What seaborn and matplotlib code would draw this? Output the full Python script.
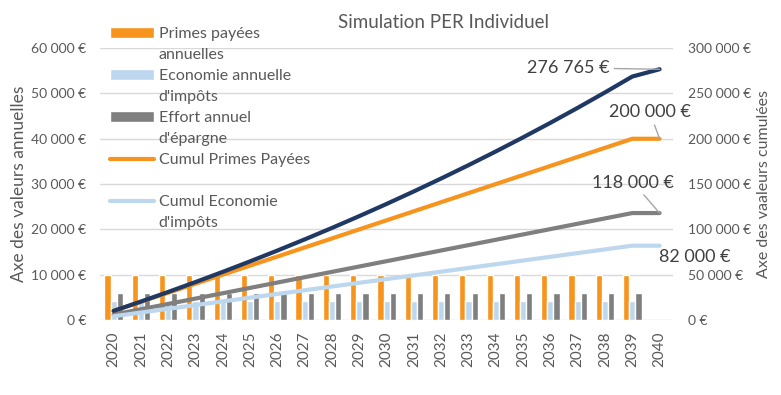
import matplotlib
matplotlib.use("Agg")
import matplotlib.pyplot as plt
from matplotlib.ticker import FuncFormatter, MultipleLocator
from matplotlib.patches import Patch
import seaborn as sns
import pandas as pd
import numpy as np

annees = ["2020", "2021", "2022", "2023", "2024", "2025", "2026", "2027", "2028", "2029", "2030",
          "2031", "2032", "2033", "2034", "2035", "2036", "2037", "2038", "2039", "2040"]

# valeurs annuelles (pas de versement en 2040)
primes = [10000] * 20 + [np.nan]
economie = [4100] * 20 + [np.nan]
effort = [5900] * 20 + [np.nan]

# valeurs cumulees
cumul_primes = [10000, 20000, 30000, 40000, 50000, 60000, 70000, 80000, 90000, 100000, 110000,
                120000, 130000, 140000, 150000, 160000, 170000, 180000, 190000, 200000, 200000]
cumul_economie = [4100, 8200, 12300, 16400, 20500, 24600, 28700, 32800, 36900, 41000, 45100,
                  49200, 53300, 57400, 61500, 65600, 69700, 73800, 77900, 82000, 82000]
cumul_effort = [5900, 11800, 17700, 23600, 29500, 35400, 41300, 47200, 53100, 59000, 64900,
                70800, 76700, 82600, 88500, 94400, 100300, 106200, 112100, 118000, 118000]
capital = [10000, 20300, 30909, 41836, 53091, 64684, 76625, 88923, 101591, 114639, 128078,
           141920, 156178, 170863, 185989, 201569, 217616, 234144, 251169, 268704, 276765]

noms_barres = ["Primes payées annuelles", "Economie annuelle d'impôts", "Effort annuel d'épargne"]
noms_lignes = ["Cumul Effort", "Cumul Economie d'impôts", "Cumul Primes Payées", "Capital"]

# texte de la legende, coupe sur deux lignes comme dans Excel
lignes_legende = [("Primes payées", "annuelles"), ("Economie annuelle", "d'impôts"),
                  ("Effort annuel", "d'épargne"), ("Cumul Primes Payées", " "),
                  ("Cumul Economie", "d'impôts")]

sns.set_theme(style="white")
plt.rcParams["font.family"] = ["Lato", "DejaVu Sans"]
gris_txt = "#595959"

df_barres = pd.DataFrame({
    "annee": annees * 3,
    "valeur": primes + economie + effort,
    "serie": [noms_barres[0]] * 21 + [noms_barres[1]] * 21 + [noms_barres[2]] * 21,
})
df_lignes = pd.DataFrame({
    "annee": annees * 4,
    "valeur": cumul_effort + cumul_economie + cumul_primes + capital,
    "serie": [n for n in noms_lignes for _ in annees],
})

fig, ax = plt.subplots(figsize=(7.81, 3.95), dpi=100)
fig.subplots_adjust(left=0.128, right=0.862, bottom=0.19, top=0.878)

sns.barplot(data=df_barres, x="annee", y="valeur", hue="serie",
            palette=["#F7941D", "#BDD7EE", "#7F7F7F"], width=0.68, saturation=1,
            ax=ax, legend=False)
ax.set_ylim(0, 60000)
ax.yaxis.set_major_locator(MultipleLocator(10000))
ax.grid(axis="y", color="#D9D9D9", lw=1)
ax.set_axisbelow(True)

ax2 = ax.twinx()
sns.lineplot(data=df_lignes, x="annee", y="valeur", hue="serie", sort=False,
             palette=["#7F7F7F", "#BDD7EE", "#F7941D", "#1F3864"], lw=3,
             ax=ax2, legend=False)
ax2.set_ylim(0, 300000)
ax2.yaxis.set_major_locator(MultipleLocator(50000))
ax.set_xlim(-0.5, 20.5)

euro = FuncFormatter(lambda v, p: f"{int(v):,}".replace(",", " ") + " €")
for a in (ax, ax2):
    a.yaxis.set_major_formatter(euro)
    for s in a.spines.values():
        s.set_visible(False)
    a.tick_params(length=0, labelsize=10, labelcolor=gris_txt)
ax.tick_params(axis="y", pad=10)
ax2.tick_params(axis="y", pad=11)
ax.tick_params(axis="x", labelrotation=90, labelsize=11, pad=8)

ax.set_xlabel("")
ax.set_ylabel("Axe des valeurs annuelles", fontsize=12.5, color=gris_txt, labelpad=3)
ax2.set_ylabel("Axe des vaaleurs cumulées", fontsize=11.5, color=gris_txt, labelpad=4)

fig.text(443 / 781, 1 - 22 / 395, "Simulation PER Individuel", ha="center", va="center",
         fontsize=13.5, color=gris_txt)

# etiquettes des valeurs finales
fin = annees[-1]
trait = dict(arrowstyle="-", color="#A6A6A6", lw=1, shrinkA=1, shrinkB=0)
ax2.annotate("276 765 €", xy=(fin, capital[-1]), xytext=(-36, 1), textcoords="offset points",
             ha="right", va="center", fontsize=13, color="#404040", arrowprops=trait)
ax2.annotate("200 000 €", xy=(fin, cumul_primes[-1]), xytext=(-7, 19), textcoords="offset points",
             ha="center", va="center", fontsize=13, color="#404040", arrowprops=trait)
ax2.annotate("118 000 €", xy=(fin, cumul_effort[-1]), xytext=(-19, 22), textcoords="offset points",
             ha="center", va="center", fontsize=13, color="#404040", arrowprops=trait)
ax2.annotate("82 000 €", xy=(fin, cumul_economie[-1]), xytext=(25, -8), textcoords="offset points",
             ha="center", va="center", fontsize=13, color="#404040")

# legende : une ligne de texte par entree, la seconde ligne sans symbole
vraies = [c.patches[0] for c in ax.containers] + [ax2.lines[2], ax2.lines[1]]
vide = Patch(facecolor="none", edgecolor="none")
poignees, etiquettes = [], []
for h, (l1, l2) in zip(vraies, lignes_legende):
    poignees += [h, vide]
    etiquettes += [l1, l2]
ax2.legend(poignees, etiquettes, loc="upper left", bbox_to_anchor=(110 / 781, 1 - 27 / 395),
           bbox_transform=fig.transFigure, frameon=False, fontsize=11.5, borderpad=0,
           borderaxespad=0, handlelength=2.75, handleheight=0.65, handletextpad=0.3,
           labelspacing=0.44, labelcolor=gris_txt)

fig.savefig("out.png", dpi=100)
